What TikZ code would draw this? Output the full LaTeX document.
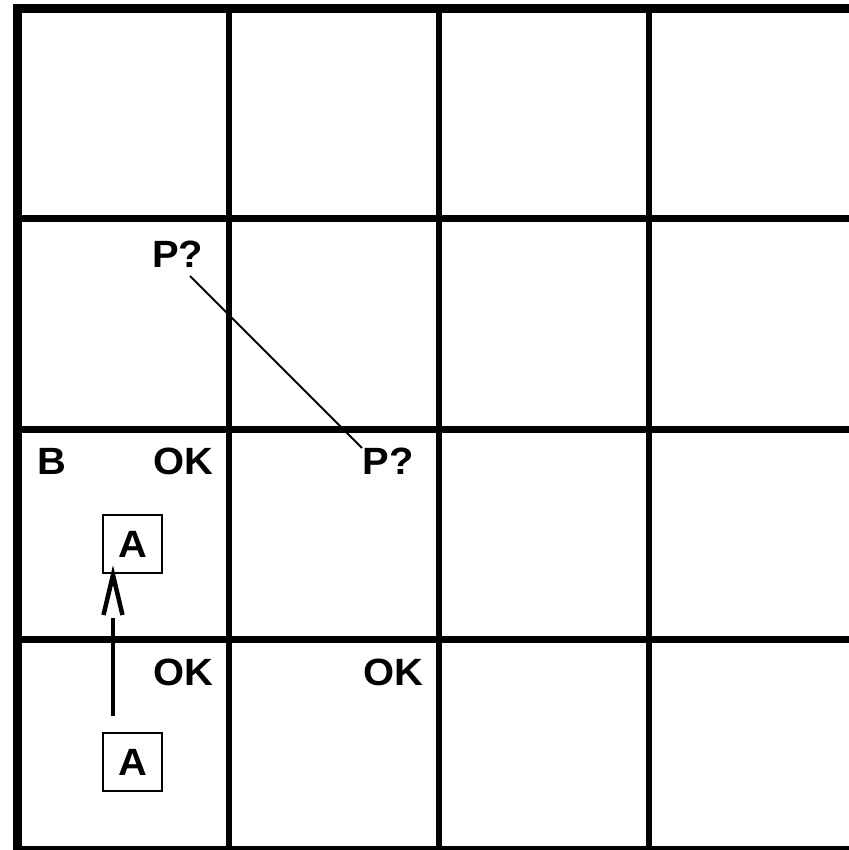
\documentclass[tikz,border=0pt]{standalone}
\usepackage{fontspec}
\setmainfont[FakeStretch=1.05]{Liberation Sans}
\begin{document}
\begin{tikzpicture}[x=1pt,y=-1pt,
  lbl/.style={inner sep=0pt, font=\bfseries\fontsize{38}{38}\selectfont},
  agent/.style={lbl, draw, line width=2pt, minimum width=59pt, minimum height=58pt},
  inner/.style={line width=6.5pt},
  outer/.style={line width=9pt},
  link/.style={line width=2pt},
  move/.style={line width=4.5pt}]
\useasboundingbox (0,0) rectangle (848,850);
\fill[white] (0,0) rectangle (848,850);
% grid
\foreach \x in {229,439,649} \draw[inner] (\x,8.4) -- (\x,850.5);
\foreach \y in {218.5,429.5,639.5} \draw[inner] (17.5,\y) -- (859.5,\y);
\draw[outer] (17.5,8.4) rectangle (859.5,850.5);
% labels
\node[lbl] (B) at (52,461) {B};
\node[lbl] (ok1) at (183,461) {OK};
\node[lbl] (p1) at (177.5,254) {P?};
\node[lbl] (p2) at (388,461) {P?};
\node[lbl] (ok2) at (183,672) {OK};
\node[lbl] (ok3) at (393,672) {OK};
\node[agent] (a1) at (132.5,544) {A};
\node[agent] (a2) at (132.5,762) {A};
% connectors
\draw[link] ([shift={(12.5,22)}]p1.center) -- ([shift={(-26,-13)}]p2.center);
\draw[move, shorten <=16pt, shorten >=44pt] ([xshift=-19.5pt]a2.north) -- ([xshift=-19.5pt]a1.south);
\draw[move, line join=miter] ([shift={(-29,41)}]a1.south) -- ([shift={(-19.5,1)}]a1.south) -- ([shift={(-10,41)}]a1.south);
\end{tikzpicture}
\end{document}
